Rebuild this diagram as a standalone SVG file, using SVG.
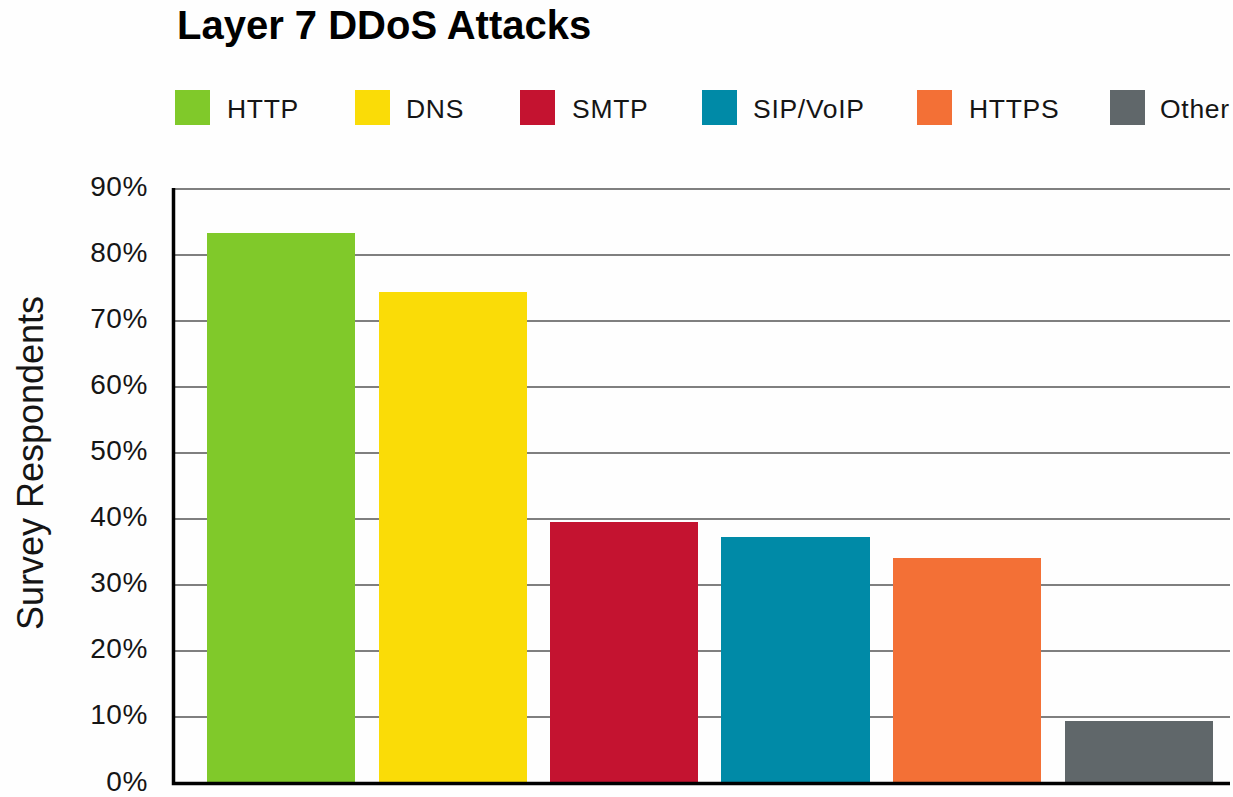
<svg xmlns="http://www.w3.org/2000/svg" width="1233" height="797" viewBox="0 0 1233 797">
<style>
text{font-family:"Liberation Sans",Arial,sans-serif;fill:#151515}
.title{font-size:40px;font-weight:bold;fill:#000}
.leg{font-size:26.5px;letter-spacing:0.7px}
.tick{font-size:28px;letter-spacing:0.6px;text-anchor:end}
.ylab{font-size:36px;text-anchor:middle}
.grid{stroke:#555;stroke-width:1.6}
.axis{stroke:#000;stroke-width:3.5;fill:none}
</style>
<rect width="1233" height="797" fill="#fefefe"/>
<text class="title" x="177" y="39">Layer 7 DDoS Attacks</text>
<g id="legend">
<g id="leg-http"><rect x="175" y="90" width="35" height="35" fill="#80c92a"/><text class="leg" x="227" y="118">HTTP</text></g>
<g id="leg-dns"><rect x="355" y="90" width="35" height="35" fill="#fadc07"/><text class="leg" x="406" y="118">DNS</text></g>
<g id="leg-smtp"><rect x="520" y="90" width="35" height="35" fill="#c41330"/><text class="leg" x="572" y="118">SMTP</text></g>
<g id="leg-sip"><rect x="702" y="90" width="35" height="35" fill="#008aa7"/><text class="leg" x="753" y="118">SIP/VoIP</text></g>
<g id="leg-https"><rect x="917" y="90" width="35" height="35" fill="#f37036"/><text class="leg" x="969" y="118">HTTPS</text></g>
<g id="leg-other"><rect x="1110" y="90" width="35" height="35" fill="#60676a"/><text class="leg" x="1160" y="118">Other</text></g>
</g>
<g id="grid">
<line class="grid" x1="173" y1="189" x2="1230" y2="189"/>
<line class="grid" x1="173" y1="255" x2="1230" y2="255"/>
<line class="grid" x1="173" y1="321" x2="1230" y2="321"/>
<line class="grid" x1="173" y1="387" x2="1230" y2="387"/>
<line class="grid" x1="173" y1="453" x2="1230" y2="453"/>
<line class="grid" x1="173" y1="519" x2="1230" y2="519"/>
<line class="grid" x1="173" y1="585" x2="1230" y2="585"/>
<line class="grid" x1="173" y1="651" x2="1230" y2="651"/>
<line class="grid" x1="173" y1="717" x2="1230" y2="717"/>
</g>
<g id="ticks">
<text class="tick" x="148" y="196">90%</text>
<text class="tick" x="148" y="262">80%</text>
<text class="tick" x="148" y="328">70%</text>
<text class="tick" x="148" y="394">60%</text>
<text class="tick" x="148" y="460">50%</text>
<text class="tick" x="148" y="526">40%</text>
<text class="tick" x="148" y="592">30%</text>
<text class="tick" x="148" y="658">20%</text>
<text class="tick" x="148" y="724">10%</text>
<text class="tick" x="148" y="791">0%</text>
</g>
<text class="ylab" transform="translate(43,463) rotate(-90)">Survey Respondents</text>
<g id="bars">
<rect id="bar-http" x="207" y="233" width="148" height="550" fill="#80c92a"/>
<rect id="bar-dns" x="379" y="292" width="148" height="491" fill="#fadc07"/>
<rect id="bar-smtp" x="550" y="522" width="148" height="261" fill="#c41330"/>
<rect id="bar-sip" x="721" y="537" width="149" height="246" fill="#008aa7"/>
<rect id="bar-https" x="893" y="558" width="148" height="225" fill="#f37036"/>
<rect id="bar-other" x="1065" y="721" width="148" height="62" fill="#60676a"/>
</g>
<path class="axis" d="M173.5 188 V783.5 H1230"/>
</svg>
